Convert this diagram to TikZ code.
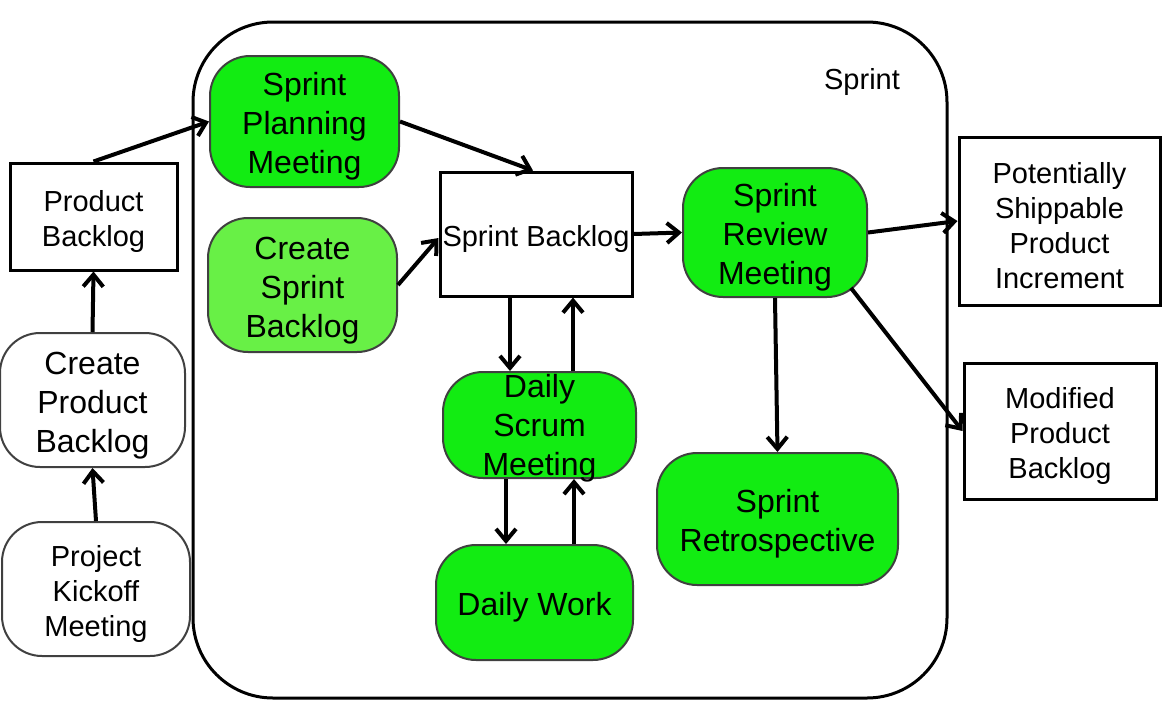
\documentclass[tikz,border=0pt]{standalone}
\usepackage{fontspec}
\setmainfont{Liberation Sans}
\usetikzlibrary{arrows.meta}

\definecolor{sgreen}{RGB}{18,236,18}
\definecolor{lgreen}{RGB}{104,240,70}
\newcommand{\nodestrut}{\rule{0pt}{1.05em}}

\begin{document}
\begin{tikzpicture}[x=0.5pt,y=-0.5pt,->,>={Straight Barb[length=6pt,width=10pt]},
        line width=2pt,
        big/.style={font=\fontsize{16}{19.5}\selectfont},
        small/.style={font=\fontsize{14.5}{17.5}\selectfont},
        box/.style={draw,line width=1.5pt,align=center,inner sep=0pt,small},
        event/.style={draw=black!75,line width=1pt,rounded corners=20pt,fill=white,
          align=center,inner sep=0pt},
        task/.style={event,fill=sgreen,big}]

  \useasboundingbox (0,0) rectangle (1169,708);

  % sprint frame
  \draw[-,line width=1.5pt,rounded corners=40pt] (193,22) rectangle (947,698);
  \node[small] (sprintlbl) at (862,82) {Sprint};

  \node[box,minimum width=83.5pt,minimum height=53.5pt] (pb) at (93.5,216.5) {\nodestrut Product\\Backlog};
  \node[event,big,minimum width=92.5pt,minimum height=67pt] (cpb) at (92.5,400) {\nodestrut Create\\Product\\Backlog};
  \node[event,small,minimum width=94pt,minimum height=67pt] (pkm) at (96,589) {\nodestrut Project\\Kickoff\\Meeting};

  \node[task,minimum width=94.5pt,minimum height=65.5pt] (spm) at (304.5,121.5) {\nodestrut Sprint\\Planning\\Meeting};
  \node[task,fill=lgreen,minimum width=94.5pt,minimum height=67pt] (csb) at (302.5,285) {\nodestrut Create\\Sprint\\Backlog};
  \node[box,minimum width=96pt,minimum height=62pt] (sb) at (536,234) {\nodestrut Sprint Backlog};
  \node[task,minimum width=96.5pt,minimum height=53pt,
    label={[big,align=center,yshift=-1.5pt]center:Daily\\Scrum\\Meeting}] (dsm) at (539.5,425) {};
  \node[task,minimum width=98.5pt,minimum height=57.5pt] (dw) at (534.5,602.5) {\nodestrut Daily Work};
  \node[task,minimum width=92pt,minimum height=64.5pt] (srm) at (775,232.5) {\nodestrut Sprint\\Review\\Meeting};
  \node[task,minimum width=120.5pt,minimum height=66pt] (sr) at (777.5,519) {\nodestrut Sprint\\Retrospective};

  \node[box,minimum width=100.5pt,minimum height=84pt] (psi) at (1059.5,221) {\nodestrut Potentially\\Shippable\\Product\\Increment};
  \node[box,minimum width=96pt,minimum height=68pt] (mpb) at (1060,431) {\nodestrut Modified\\Product\\Backlog};

  \draw (pb.north) -- (spm.west);
  \draw (cpb.north) -- (pb.south);
  \draw (pkm.north) -- (cpb.south);
  \draw (spm.east) -- ([xshift=-1.5pt]sb.north);
  \draw (csb.east) -- ([yshift=-2pt]sb.west);
  \draw (sb.east) -- (srm.west);
  \draw ([xshift=-13pt]sb.south) -- ([xshift=-13pt]sb.south |- dsm.north);
  \draw ([xshift=18.5pt]sb.south |- dsm.north) -- ([xshift=18.5pt]sb.south);
  \draw ([xshift=-16.75pt]dsm.south) -- ([xshift=-16.75pt]dsm.south |- dw.north);
  \draw ([xshift=17.25pt]dsm.south |- dw.north) -- ([xshift=17.25pt]dsm.south);
  \draw (srm.south) -- (sr.north);
  \draw (srm.east) -- (psi.west);
  \draw ([shift={(-8.5pt,5pt)}]srm.south east) -- (mpb.west);

\end{tikzpicture}
\end{document}
